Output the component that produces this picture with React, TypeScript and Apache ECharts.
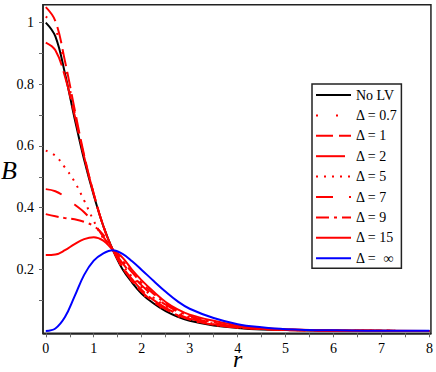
import React, { useEffect, useRef } from "react";
import * as echarts from "echarts";

const R = [0, 0.2, 0.4, 0.6, 0.8, 1.0, 1.2, 1.4, 1.6, 1.8, 2.0, 2.25, 2.5, 2.75, 3.0, 3.5, 4, 4.5, 5, 6, 7, 8];

const noLV = [1.0, 0.955, 0.835, 0.69, 0.555, 0.44, 0.34, 0.262, 0.2, 0.157, 0.121, 0.089, 0.064, 0.046, 0.033, 0.018, 0.01, 0.005, 0.003, 0.001, 0.0005, 0];
const d07 = [1.02, 0.98, 0.86, 0.71, 0.565, 0.445, 0.34, 0.262, 0.202, 0.159, 0.123, 0.091, 0.066, 0.048, 0.035, 0.019, 0.01, 0.006, 0.003, 0.001, 0.0005, 0];
const d1 = [1.05, 1.005, 0.875, 0.72, 0.57, 0.445, 0.34, 0.262, 0.205, 0.162, 0.127, 0.094, 0.07, 0.051, 0.037, 0.02, 0.011, 0.006, 0.003, 0.001, 0.0005, 0];
const d2 = [0.935, 0.91, 0.825, 0.7, 0.565, 0.445, 0.34, 0.262, 0.208, 0.168, 0.133, 0.1, 0.075, 0.055, 0.04, 0.022, 0.012, 0.007, 0.004, 0.001, 0.0005, 0];
const d5 = [0.585, 0.568, 0.53, 0.484, 0.423, 0.357, 0.3, 0.263, 0.214, 0.176, 0.142, 0.108, 0.081, 0.06, 0.044, 0.024, 0.013, 0.007, 0.004, 0.001, 0.0005, 0];
const d7 = [0.46, 0.453, 0.435, 0.41, 0.385, 0.35, 0.305, 0.263, 0.22, 0.182, 0.148, 0.113, 0.085, 0.063, 0.046, 0.026, 0.014, 0.008, 0.004, 0.001, 0.0005, 0];
const d9 = [0.379, 0.372, 0.366, 0.362, 0.354, 0.34, 0.312, 0.263, 0.228, 0.19, 0.156, 0.12, 0.09, 0.066, 0.049, 0.028, 0.015, 0.008, 0.005, 0.001, 0.0005, 0];
const d15 = [0.246, 0.248, 0.262, 0.282, 0.298, 0.304, 0.293, 0.263, 0.238, 0.198, 0.164, 0.127, 0.094, 0.07, 0.053, 0.033, 0.018, 0.01, 0.006, 0.002, 0.001, 0];
const dInf = [0, 0.008, 0.045, 0.112, 0.182, 0.228, 0.252, 0.262, 0.25, 0.226, 0.198, 0.162, 0.127, 0.096, 0.072, 0.042, 0.022, 0.012, 0.006, 0.002, 0.001, 0.0005];

const xLabels = [0, 1, 2, 3, 4, 5, 6, 7, 8];
const xTicks = [0, 0.5, 1, 1.5, 2, 2.5, 3, 3.5, 4, 4.5, 5, 5.5, 6, 6.5, 7, 7.5, 8];
const yLabels = [0.2, 0.4, 0.6, 0.8, 1];
const yTicks = [0.1, 0.2, 0.3, 0.4, 0.5, 0.6, 0.7, 0.8, 0.9, 1];

const seriesDefs = [
  { name: "No LV", data: noLV, color: "#000000", type: "solid" as any },
  { name: "Δ = 0.7", data: d07, color: "#ff0000", type: [2, 18] },
  { name: "Δ = 1", data: d1, color: "#ff0000", type: [17, 6] },
  { name: "Δ = 2", data: d2, color: "#ff0000", type: [29, 6] },
  { name: "Δ = 5", data: d5, color: "#ff0000", type: [2, 6] },
  { name: "Δ = 7", data: d7, color: "#ff0000", type: [17, 16] },
  { name: "Δ = 9", data: d9, color: "#ff0000", type: [13, 5, 3, 5] },
  { name: "Δ = 15", data: d15, color: "#ff0000", type: "solid" as any },
  { name: "Δ = ∞", data: dInf, color: "#0000ff", type: "solid" as any },
];

const FONT = "'Liberation Serif', 'DejaVu Serif', serif";

export default function App() {
  const ref = useRef<HTMLDivElement>(null);
  useEffect(() => {
    if (!ref.current) return;
    const chart = echarts.init(ref.current, undefined, { renderer: "svg" });
    chart.setOption({
      animation: false,
      backgroundColor: "#ffffff",
      grid: {
        left: 43,
        top: 4.7,
        width: 388,
        height: 328.6,
        show: true,
        borderColor: "#222",
        borderWidth: 1.5,
        backgroundColor: "transparent",
      },
      xAxis: {
        type: "value",
        min: -0.058,
        max: 8.03,
        axisLine: { show: true, onZero: false, lineStyle: { color: "#222", width: 1.5 } },
        axisTick: { show: true, customValues: xTicks, length: 4, lineStyle: { color: "#666" } },
        axisLabel: {
          customValues: xLabels,
          margin: 10,
          fontFamily: FONT,
          fontSize: 14,
          lineHeight: 10,
          color: "#000",
          formatter: (v: number) => String(v),
        },
        splitLine: { show: false },
      },
      yAxis: {
        type: "value",
        min: -0.0075,
        max: 1.058,
        axisLine: { show: true, onZero: false, lineStyle: { color: "#222", width: 1.5 } },
        axisTick: { show: true, customValues: yTicks, length: 4, lineStyle: { color: "#666" } },
        axisLabel: {
          customValues: yLabels,
          margin: 9,
          fontFamily: FONT,
          fontSize: 14,
          color: "#000",
          formatter: (v: number) => String(v),
        },
        splitLine: { show: false },
      },
      legend: {
        orient: "vertical",
        left: 312,
        top: 84,
        itemWidth: 35,
        itemHeight: 14,
        itemGap: 6.4,
        padding: [4, 4, 3, 3],
        borderColor: "#222",
        borderWidth: 1.5,
        backgroundColor: "#ffffff",
        itemStyle: { opacity: 0 },
        textStyle: {
          fontFamily: FONT,
          fontSize: 14,
          color: "#000",
          lineHeight: 14,
          rich: { i: { fontFamily: FONT, fontSize: 14, fontStyle: "italic", color: "#000" } },
        },
        formatter: (name: string) => (name === "Δ = ∞" ? "Δ =  {i|∞}" : name),
        data: seriesDefs.map((s) => s.name),
      },
      graphic: [
        {
          type: "text",
          left: 1,
          top: 157,
          style: { text: "B", font: `italic 26px ${FONT}`, lineHeight: 26, fill: "#000" },
        },
        {
          type: "text",
          left: 233,
          top: 347,
          style: { text: "r", font: `italic 24px ${FONT}`, lineHeight: 24, fill: "#000" },
        },
      ],
      series: seriesDefs.map((s) => ({
        name: s.name,
        type: "line",
        smooth: 0.4,
        symbol: "none",
        showSymbol: false,
        data: R.map((r, i) => [r, s.data[i]]),
        itemStyle: { color: s.color },
        lineStyle: { color: s.color, width: 2, type: s.type },
      })),
    });
    return () => chart.dispose();
  }, []);
  return (
    <div
      ref={ref}
      style={{ position: "fixed", left: 0, top: 0, width: 436, height: 372, background: "#fff" }}
    />
  );
}
